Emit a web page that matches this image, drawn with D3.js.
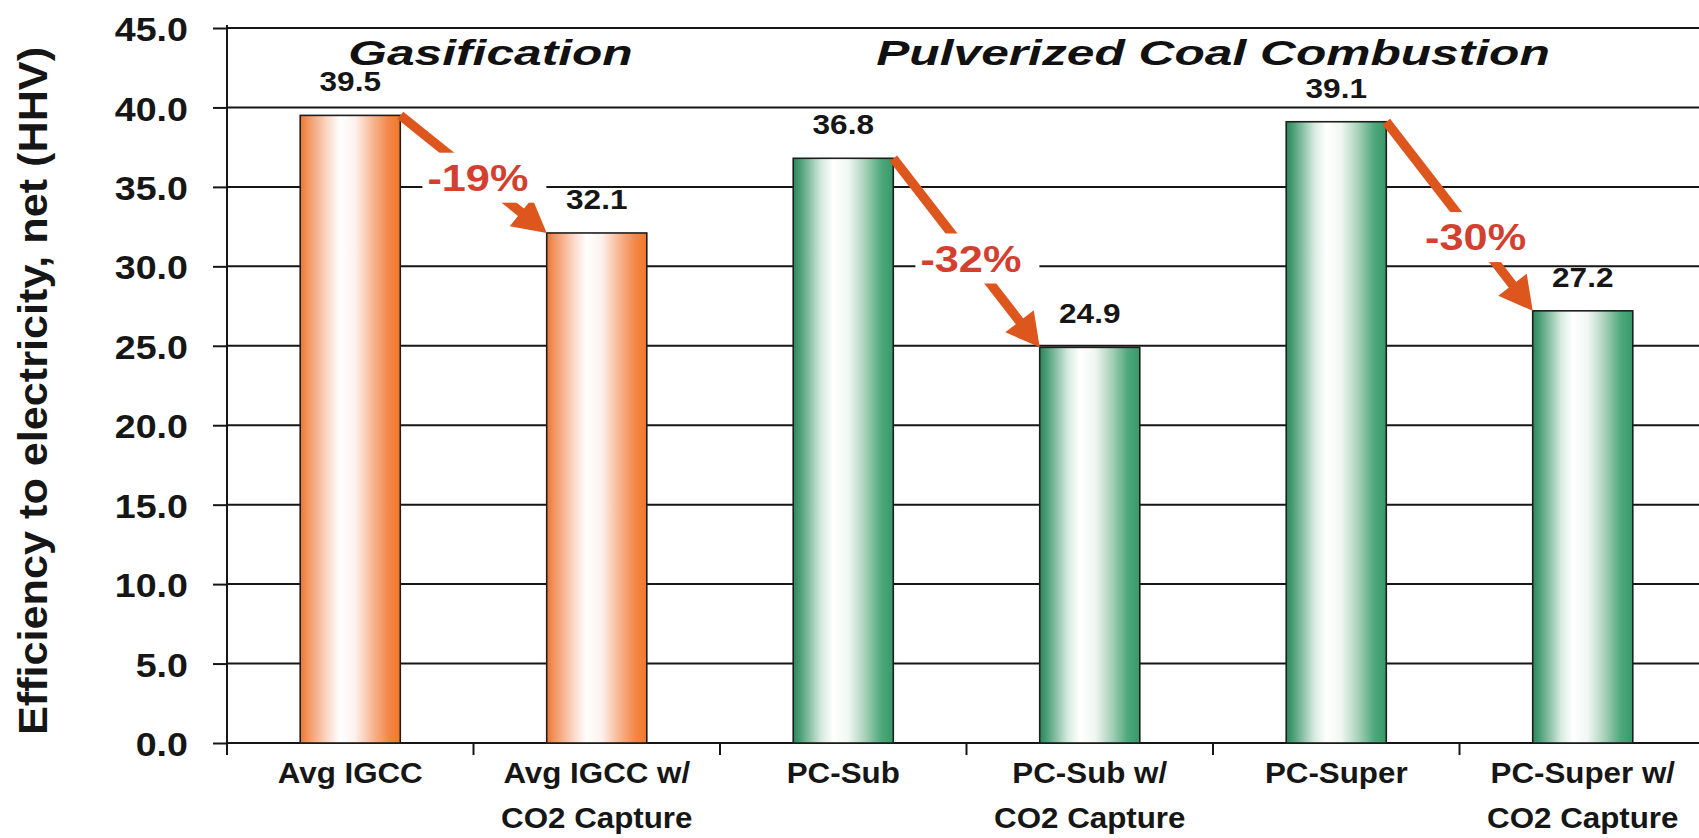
<!DOCTYPE html>
<html>
<head>
<meta charset="utf-8">
<script src="https://cdn.jsdelivr.net/npm/d3@7"></script>
<style>
  html, body { margin: 0; padding: 0; background: #ffffff; }
  svg { display: block; }
  text { font-family: "Liberation Sans", Arial, Helvetica, sans-serif; }
</style>
</head>
<body>
<svg id="chart" width="1699" height="838"></svg>
<script>
// ---- data ----
const categories = [
  "Avg IGCC",
  "Avg IGCC w/\nCO2 Capture",
  "PC-Sub",
  "PC-Sub w/\nCO2 Capture",
  "PC-Super",
  "PC-Super w/\nCO2 Capture"
];
const efficiency = [39.5, 32.1, 36.8, 24.9, 39.1, 27.2];
const technology = ["gas", "gas", "pc", "pc", "pc", "pc"];
const yTicks = [0, 5, 10, 15, 20, 25, 30, 35, 40, 45];
const yTitle = "Efficiency to electricity, net (HHV)";
const groupNames = ["Gasification", "Pulverized Coal Combustion"];
const groupFirst = [0, 2];
const groupLast = [1, 5];
const changeLabels = ["-19%", "-32%", "-30%"];
const changeFrom = [0, 2, 4];

// ---- layout ----
const W = 1699, H = 838;
const plotLeft = 227, plotTop = 28, plotBottom = 743;
const bandStep = 246.5;
const headingShift = [17, 0];          // nudge for each group heading
const labelAlong = [0.53, 0.53, 0.61]; // where each change label sits on its arrow
const ink = "#161616";
const arrowColor = "#dc561d";
const changeColor = "#d4402f";

const svg = d3.select("#chart");

const x = d3.scaleBand()
  .domain(categories)
  .range([plotLeft, plotLeft + bandStep * categories.length])
  .paddingInner(0.594)
  .paddingOuter(0.297);

const y = d3.scaleLinear()
  .domain(d3.extent(yTicks))
  .range([plotBottom, plotTop]);

// horizontally widened text, anchored at (tx, ty)
function widen(sel, tx, ty, sx) {
  sel.attr("x", 0).attr("y", 0)
     .attr("transform", `translate(${tx},${ty}) scale(${sx},1)`);
}

// ---- gradients ----
const defs = svg.append("defs");
const gradStops = {
  gas: [
    [0, "#ee7434"], [0.07, "#f1935d"], [0.28, "#fbdccd"], [0.40, "#ffffff"],
    [0.55, "#fdf1ec"], [0.72, "#f8b794"], [0.88, "#f3884a"], [1, "#f07828"]
  ],
  pc: [
    [0, "#2a8858"], [0.07, "#4c9e77"], [0.28, "#d6eadf"], [0.40, "#ffffff"],
    [0.55, "#f1f7f3"], [0.72, "#a6d1b8"], [0.88, "#4ea87b"], [1, "#379968"]
  ]
};
Object.entries(gradStops).forEach(([key, stops]) => {
  const g = defs.append("linearGradient")
    .attr("id", "fill-" + key)
    .attr("x1", 0).attr("x2", 1).attr("y1", 0).attr("y2", 0);
  g.selectAll("stop").data(stops).join("stop")
    .attr("offset", d => d[0])
    .attr("stop-color", d => d[1]);
});

// ---- gridlines ----
svg.append("g").selectAll("line").data(yTicks).join("line")
  .attr("x1", plotLeft).attr("x2", W)
  .attr("y1", d => y(d)).attr("y2", d => y(d))
  .attr("stroke", ink).attr("stroke-width", 2);

// ---- y axis ----
const yAxis = svg.append("g")
  .attr("transform", `translate(${plotLeft},0)`)
  .call(d3.axisLeft(y).tickValues(yTicks).tickFormat(d3.format(".1f"))
        .tickSize(14).tickSizeOuter(0).tickPadding(25));
yAxis.select(".domain").remove();
yAxis.selectAll(".tick line").attr("stroke", ink).attr("stroke-width", 2);
yAxis.selectAll(".tick text")
  .attr("font-size", 33).attr("font-weight", "bold").attr("fill", ink)
  .attr("dy", null).attr("dominant-baseline", "central")
  .each(function () {
    widen(d3.select(this), -39, 1, 1.14);
  });

// vertical axis line, extending a little below zero
svg.append("line")
  .attr("x1", plotLeft).attr("x2", plotLeft)
  .attr("y1", plotTop - 3).attr("y2", plotBottom + 12)
  .attr("stroke", ink).attr("stroke-width", 2);

// category boundary ticks on the x axis
const boundaries = d3.range(categories.length + 1).map(i => x.range()[0] + i * x.step());
svg.append("g").selectAll("line").data(boundaries.slice(1)).join("line")
  .attr("x1", d => d).attr("x2", d => d)
  .attr("y1", plotBottom).attr("y2", plotBottom + 12)
  .attr("stroke", ink).attr("stroke-width", 2);

// ---- bars ----
svg.append("g").selectAll("rect").data(categories).join("rect")
  .attr("x", d => x(d))
  .attr("y", (d, i) => y(efficiency[i]))
  .attr("width", x.bandwidth())
  .attr("height", (d, i) => y(0) - y(efficiency[i]))
  .attr("fill", (d, i) => `url(#fill-${technology[i]})`)
  .attr("stroke", "#1e1e1e").attr("stroke-width", 1.6);

// ---- value labels ----
svg.append("g").selectAll("text").data(categories).join("text")
  .attr("text-anchor", "middle")
  .attr("font-size", 27).attr("font-weight", "bold").attr("fill", ink)
  .text((d, i) => efficiency[i].toFixed(1))
  .each(function (d, i) {
    widen(d3.select(this), x(d) + x.bandwidth() / 2, y(efficiency[i]) - 24, 1.17);
  });

// ---- category labels ----
const catG = svg.append("g");
categories.forEach(c => {
  c.split("\n").forEach((line, k) => {
    const t = catG.append("text")
      .attr("text-anchor", "middle")
      .attr("font-size", 29).attr("font-weight", "bold").attr("fill", ink)
      .text(line);
    widen(t, x(c) + x.bandwidth() / 2, 783 + k * 45, 1.08);
  });
});

// ---- y axis title ----
svg.append("text")
  .attr("text-anchor", "middle")
  .attr("font-size", 40).attr("font-weight", "bold").attr("fill", ink)
  .attr("transform", `translate(47,391) rotate(-90) scale(1.08,1)`)
  .text(yTitle);

// ---- group headings ----
groupNames.forEach((name, g) => {
  const left = x.range()[0] + groupFirst[g] * x.step();
  const right = x.range()[0] + (groupLast[g] + 1) * x.step();
  const t = svg.append("text")
    .attr("text-anchor", "middle")
    .attr("font-size", 35).attr("font-weight", "bold").attr("font-style", "italic")
    .attr("fill", "#111")
    .text(name);
  widen(t, (left + right) / 2 + headingShift[g], 65, 1.42);
});

// ---- change arrows ----
const arrowG = svg.append("g");
changeLabels.forEach((label, k) => {
  const i = changeFrom[k], j = i + 1;
  const x1 = x(categories[i]) + x.bandwidth(), y1 = y(efficiency[i]);
  const x2 = x(categories[j]), y2 = y(efficiency[j]);
  const len = Math.hypot(x2 - x1, y2 - y1);
  const ux = (x2 - x1) / len, uy = (y2 - y1) / len;
  const px = -uy, py = ux;
  const headLen = 33, headHalf = 18;
  const bx = x2 - ux * headLen, by = y2 - uy * headLen;

  arrowG.append("line")
    .attr("x1", x1).attr("y1", y1)
    .attr("x2", bx + ux * 2).attr("y2", by + uy * 2)
    .attr("stroke", arrowColor).attr("stroke-width", 9.5);
  arrowG.append("polygon")
    .attr("points", [[x2, y2], [bx + px * headHalf, by + py * headHalf], [bx - px * headHalf, by - py * headHalf]].join(" "))
    .attr("fill", arrowColor);

  // label sits on the shaft, over a white box
  const f = labelAlong[k];
  const cx = x1 + (x2 - x1) * f, cy = y1 + (y2 - y1) * f;
  const box = arrowG.append("rect").attr("fill", "#ffffff");
  const t = arrowG.append("text")
    .attr("text-anchor", "middle")
    .attr("font-size", 37).attr("font-weight", "bold").attr("fill", changeColor)
    .text(label);
  widen(t, cx, cy + 13, 1.17);
  const w = t.node().getBBox().width * 1.17;
  box.attr("x", cx - w / 2 - 5).attr("y", cy - 25)
     .attr("width", w + 23).attr("height", 50);
});
</script>
</body>
</html>
